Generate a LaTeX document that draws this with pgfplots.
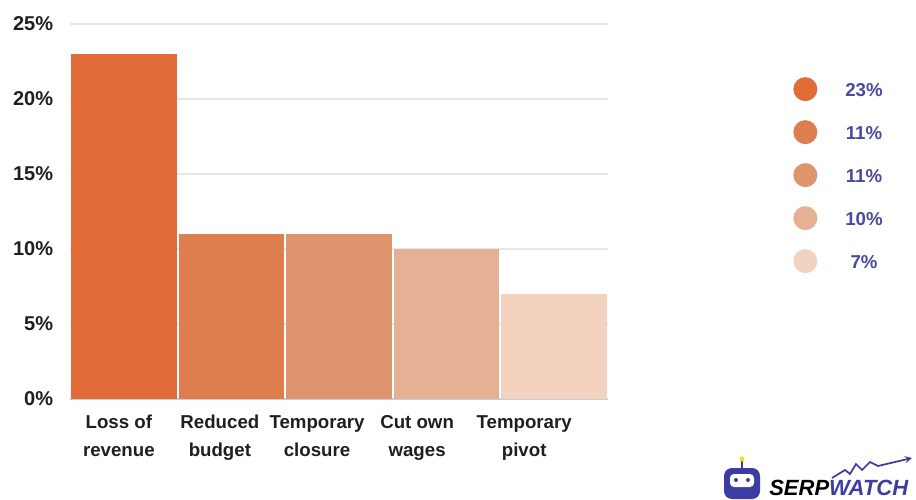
\documentclass[border=0pt]{standalone}
\usepackage{pgfplots}
\pgfplotsset{compat=1.18}
\usepackage{fontspec}
\setmainfont{Liberation Sans}
\definecolor{c1}{HTML}{E16C37}
\definecolor{c2}{HTML}{DE7D4E}
\definecolor{c3}{HTML}{DE946D}
\definecolor{c4}{HTML}{E5B094}
\definecolor{c5}{HTML}{F3D3C0}
\definecolor{legblue}{HTML}{4A4A9E}
\definecolor{txt}{HTML}{1F1F1F}
\definecolor{gridc}{HTML}{E6E6E6}
\definecolor{logoblue}{HTML}{3B3DA0}
\begin{document}
\begin{tikzpicture}
\begin{scope}[x=0.75pt,y=-0.75pt,shift={(-70,-399)}]
\path[use as bounding box] (0,0) rectangle (916,499);
\end{scope}
\begin{axis}[
  at={(0,0)}, anchor=south west,
  scale only axis,
  width=403.5pt, height=281.25pt,
  xmin=-0.5, xmax=4.5, ymin=0, ymax=25,
  axis x line*=bottom, axis y line*=left,
  x axis line style={draw=black!20, line width=0.9pt},
  y axis line style={draw=none},
  major tick length=0pt,
  ytick={0,5,10,15,20,25},
  yticklabels={0\%,5\%,10\%,15\%,20\%,25\%},
  yticklabel style={font=\fontsize{15}{18}\selectfont\bfseries, text=txt, inner sep=0pt, xshift=-12.5pt},
  xtick={-0.046,0.893,1.796,2.726,3.721},
  xticklabels={Loss of\\revenue, Reduced\\budget, Temporary\\closure, Cut own\\wages, Temporary\\pivot},
  xticklabel style={font=\fontsize{14}{21}\selectfont\bfseries, text=txt, align=center, inner sep=0pt, yshift=-12pt},
  ymajorgrids,
  grid style={draw=gridc, line width=0.9pt},
  legend cell align=center,
  legend style={draw=none, fill=none, inner sep=0pt, at={(axis description cs:1.344,0.859)}, anchor=north west,
    font=\fontsize{14}{16}\selectfont\bfseries, text=legblue, row sep=14.25pt,
    /tikz/every odd column/.append style={column sep=21pt},
    nodes={inner sep=0pt}},
]
\addplot[ybar, bar shift=0pt, bar width=79.2pt, fill=c1, draw=none, legend image code/.code={\fill[c1] (9pt,1.5pt) circle (9pt);}] coordinates {(0,23)};
\addlegendentry{23\%}
\addplot[ybar, bar shift=0pt, bar width=79.2pt, fill=c2, draw=none, legend image code/.code={\fill[c2] (9pt,1.5pt) circle (9pt);}] coordinates {(1,11)};
\addlegendentry{11\%}
\addplot[ybar, bar shift=0pt, bar width=79.2pt, fill=c3, draw=none, legend image code/.code={\fill[c3] (9pt,1.5pt) circle (9pt);}] coordinates {(2,11)};
\addlegendentry{11\%}
\addplot[ybar, bar shift=0pt, bar width=79.2pt, fill=c4, draw=none, legend image code/.code={\fill[c4] (9pt,1.5pt) circle (9pt);}] coordinates {(3,10)};
\addlegendentry{10\%}
\addplot[ybar, bar shift=0pt, bar width=79.2pt, fill=c5, draw=none, legend image code/.code={\fill[c5] (9pt,1.5pt) circle (9pt);}] coordinates {(4,7)};
\addlegendentry{7\%}
\end{axis}
\begin{scope}[x=0.75pt,y=-0.75pt,shift={(-70,-399)}]
% logo robot
\fill[logoblue, rounded corners=6pt] (724,468) rectangle (760,499);
\draw[logoblue, line width=1.2pt] (742,468) -- (742,461);
\fill[yellow!80!orange] (742,459) circle (2.5);
\fill[white, rounded corners=3pt] (730,474) rectangle (754,487);
\fill[logoblue] (736,480) circle (2);
\fill[logoblue] (748,480) circle (2);
\node[anchor=base west, inner sep=0pt, font=\fontsize{16.5}{18}\selectfont\bfseries\itshape] at (769,495) {SERP\textcolor{logoblue}{WATCH}};
\draw[logoblue, line width=1.3pt, -stealth] (832,478) -- (845,470) -- (850,474) -- (856,464) -- (862,470) -- (870,462) -- (878,466) -- (912,458);
\end{scope}
\end{tikzpicture}
\end{document}
